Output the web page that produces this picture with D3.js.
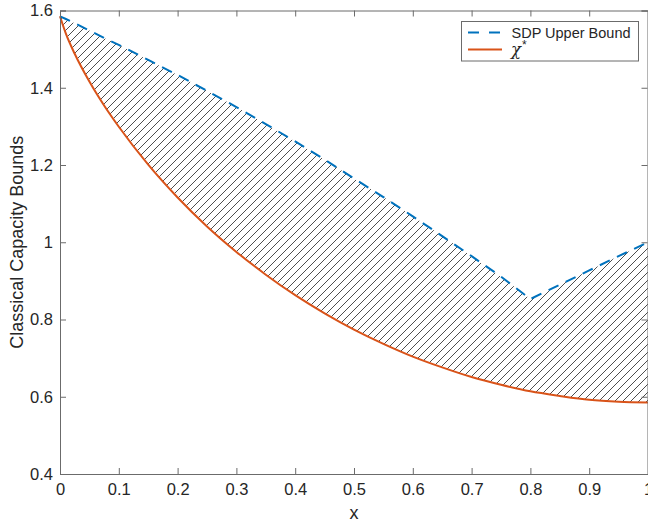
<!DOCTYPE html>
<html>
<head>
<meta charset="utf-8">
<script src="https://cdn.jsdelivr.net/npm/d3@7"></script>
<style>
  body { margin: 0; background: #fff; }
  text { font-family: "Liberation Sans", Arial, Helvetica, sans-serif; fill: #262626; }
</style>
</head>
<body>
<script>
// values
const xs = [0, 0.01, 0.025, 0.05, 0.075, 0.1, 0.15, 0.2, 0.25, 0.3, 0.35, 0.4, 0.45, 0.5,
    0.55, 0.6, 0.65, 0.7, 0.75, 0.8, 0.85, 0.9, 0.95, 1]
const sdpUpper = [1.585, 1.578, 1.567, 1.548, 1.529, 1.511, 1.472, 1.433, 1.392, 1.350, 1.306, 1.261, 1.214, 1.165,
    1.117, 1.067, 1.016, 0.964, 0.911, 0.853, 0.890, 0.927, 0.964, 1.0]
const chiStar = [1.585, 1.540, 1.488, 1.416, 1.354, 1.299, 1.201, 1.116, 1.041, 0.975, 0.916, 0.863, 0.816, 0.774,
    0.737, 0.704, 0.676, 0.651, 0.631, 0.614, 0.602, 0.592, 0.587, 0.585]
const xTicks = [0, 0.1, 0.2, 0.3, 0.4, 0.5, 0.6, 0.7, 0.8, 0.9, 1]
const yTicks = [0.4, 0.6, 0.8, 1, 1.2, 1.4, 1.6]
const seriesNames = ['SDP Upper Bound', 'χ']

const w = 648, h = 524
const pl = 60, pr = 648, pt = 10.5, pb = 474
const blue = '#0072bd', orange = '#d95319', axisCol = '#6b6b6b'

const x = d3.scaleLinear().domain([0, 1]).range([pl, pr])
const y = d3.scaleLinear().domain([0.4, 1.6]).range([pb, pt])

const svg = d3.select('body').append('svg').attr('width', w).attr('height', h)

// hatch pattern
svg.append('defs').append('pattern')
    .attr('id', 'hatch').attr('patternUnits', 'userSpaceOnUse')
    .attr('width', 8).attr('height', 8)
    .append('path')
    .attr('d', 'M-2,2 L2,-2 M0,8 L8,0 M6,10 L10,6')
    .attr('stroke', '#3a3a3a').attr('stroke-width', 0.9)

const upperPts = xs.map((v, i) => [x(v), y(sdpUpper[i])])
const lowerPts = xs.map((v, i) => [x(v), y(chiStar[i])])

const straight = d3.line()
const smooth = d3.line().curve(d3.curveMonotoneX)

// region between the bounds
svg.append('path')
    .attr('d', straight(upperPts) + 'L' + smooth(lowerPts.slice().reverse()).slice(1) + 'Z')
    .attr('fill', 'url(#hatch)')

svg.append('path')
    .attr('d', smooth(lowerPts))
    .attr('fill', 'none').attr('stroke', orange).attr('stroke-width', 2)

svg.append('path')
    .attr('d', straight(upperPts))
    .attr('fill', 'none').attr('stroke', blue).attr('stroke-width', 2)
    .attr('stroke-dasharray', '11,8')

// axes, ticks on all four sides pointing inward
const gx = svg.append('g').attr('transform', `translate(0,${pb})`)
    .call(d3.axisBottom(x).tickValues(xTicks).tickSize(-6).tickPadding(9).tickFormat(d3.format('')))
const gxt = svg.append('g').attr('transform', `translate(0,${pt})`)
    .call(d3.axisTop(x).tickValues(xTicks).tickSize(-6).tickFormat(''))
const gy = svg.append('g').attr('transform', `translate(${pl},0)`)
    .call(d3.axisLeft(y).tickValues(yTicks).tickSize(-6).tickPadding(7).tickFormat(d3.format('')))
const gyr = svg.append('g').attr('transform', `translate(${pr - 0.5},0)`)
    .call(d3.axisRight(y).tickValues(yTicks).tickSize(-6).tickFormat(''))

for (const g of [gx, gxt, gy, gyr]) {
    g.select('.domain').attr('stroke', axisCol)
    g.selectAll('.tick line').attr('stroke', axisCol)
    g.selectAll('.tick text').attr('font-size', 16.5).attr('fill', '#262626')
        .attr('font-family', '"Liberation Sans", Arial, sans-serif')
}

svg.append('text')
    .attr('x', (pl + pr) / 2).attr('y', 519)
    .attr('text-anchor', 'middle').attr('font-size', 18)
    .text('x')

svg.append('text')
    .attr('transform', `translate(23,${(pt + pb) / 2}) rotate(-90)`)
    .attr('text-anchor', 'middle').attr('font-size', 18)
    .text('Classical Capacity Bounds')

// legend
const lg = svg.append('g')
lg.append('rect')
    .attr('x', 461.5).attr('y', 21.5).attr('width', 177).attr('height', 39.5)
    .attr('fill', '#fff').attr('stroke', axisCol).attr('stroke-width', 1)
lg.append('line')
    .attr('x1', 468).attr('x2', 502).attr('y1', 32.5).attr('y2', 32.5)
    .attr('stroke', blue).attr('stroke-width', 2).attr('stroke-dasharray', '11,10')
lg.append('line')
    .attr('x1', 468).attr('x2', 502).attr('y1', 49.5).attr('y2', 49.5)
    .attr('stroke', orange).attr('stroke-width', 2)
lg.append('text')
    .attr('x', 511.5).attr('y', 37.5).attr('font-size', 14.5)
    .text(seriesNames[0])
const chi = lg.append('text')
    .attr('x', 511).attr('y', 55).attr('font-size', 16.5)
chi.append('tspan')
    .attr('font-family', '"DejaVu Serif", "Liberation Serif", serif').attr('font-style', 'italic')
    .text(seriesNames[1])
chi.append('tspan')
    .attr('dx', 1).attr('dy', -6).attr('font-size', 12)
    .text('*')
</script>
</body>
</html>
